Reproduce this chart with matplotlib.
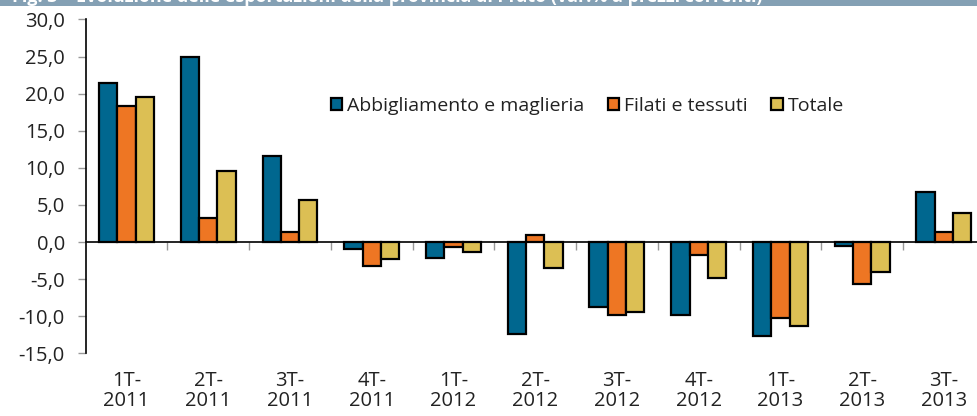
import numpy as np
import matplotlib.pyplot as plt
from matplotlib.ticker import FuncFormatter, FixedLocator
from matplotlib.patches import Rectangle

plt.rcParams['font.family'] = ['Open Sans', 'DejaVu Sans']

trimestri = ['1T-\n2011', '2T-\n2011', '3T-\n2011', '4T-\n2011', '1T-\n2012', '2T-\n2012',
             '3T-\n2012', '4T-\n2012', '1T-\n2013', '2T-\n2013', '3T-\n2013']
abbigliamento = [21.5, 24.9, 11.6, -0.9, -2.2, -12.4, -8.8, -9.8, -12.7, -0.5, 6.8]
filati = [18.3, 3.2, 1.3, -3.2, -0.7, 1.0, -9.8, -1.7, -10.3, -5.6, 1.4]
totale = [19.6, 9.6, 5.7, -2.3, -1.3, -3.5, -9.4, -4.8, -11.3, -4.0, 3.9]

serie = ['Abbigliamento e maglieria', 'Filati e tessuti', 'Totale']
colori = ['#00678f', '#ee7623', '#dcbf54']

W, H = 978, 416
fig = plt.figure(figsize=(W / 100, H / 100), dpi=100)

# title band cut at the top edge
fig.patches.append(Rectangle((0, 1 - 5.5 / H), 1, 5.5 / H, transform=fig.transFigure,
                             facecolor='#84a0b4', edgecolor='none'))
fig.text(12 / W, 1 + 3 / H, 'Fig. 3    Evoluzione delle esportazioni della provincia di Prato (var.% a prezzi correnti)',
         color='white', fontsize=13, fontweight='bold', va='center', ha='left')

ax = fig.add_axes([85.7 / W, (H - 353.3) / H, 899 / W, 333.8 / H])

x = np.arange(len(trimestri))
bw = 0.224
for i, (vals, nome, col) in enumerate(zip([abbigliamento, filati, totale], serie, colori)):
    ax.bar(x + (i - 1) * bw, vals, bw, color=col, edgecolor='black', linewidth=1.6,
           label=nome, zorder=3)

ax.set_xlim(-0.5, len(trimestri) - 0.5)
ax.set_ylim(-15, 30)
ax.set_yticks(np.arange(-15, 31, 5))
ax.yaxis.set_major_formatter(FuncFormatter(lambda v, p: ('%.1f' % v).replace('.', ',')))
ax.tick_params(axis='y', direction='out', length=6, width=1, color='#999999',
               labelsize=14.5, labelcolor='#222222', pad=9)

ax.set_xticks(x)
ax.set_xticklabels(trimestri, fontsize=14.5, color='#222222', linespacing=1.0)
ax.tick_params(axis='x', length=0, pad=13)

for s in ['top', 'right', 'bottom']:
    ax.spines[s].set_visible(False)
ax.spines['left'].set_linewidth(1.2)

# category axis line on zero, with ticks between categories
sec = ax.secondary_xaxis(15 / 45)
sec.xaxis.set_major_locator(FixedLocator(np.arange(0.5, len(trimestri) - 0.5, 1)))
sec.set_xticklabels([])
sec.tick_params(axis='x', direction='out', length=6, width=1, color='#999999')
sec.spines['bottom'].set_linewidth(1.2)
sec.spines['bottom'].set_zorder(5)

leg = ax.legend(loc='center left', bbox_to_anchor=(245 / 899, (353.3 - 106) / 333.8), ncol=3,
                frameon=False, fontsize=14, handlelength=0.6, handleheight=0.6,
                handletextpad=0.25, columnspacing=1.2, borderaxespad=0, borderpad=0)
for t in leg.get_texts():
    t.set_color('#222222')

fig.savefig('out.png', dpi=100)
